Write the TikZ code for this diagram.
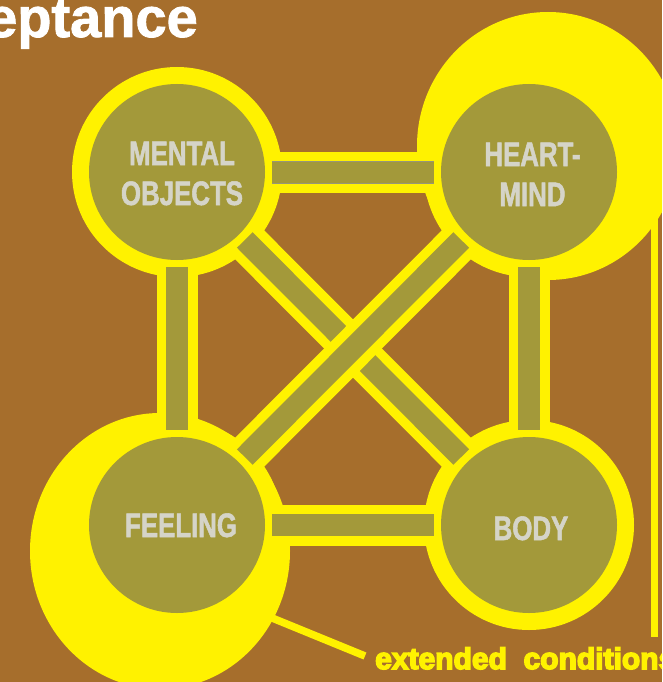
\documentclass[tikz,border=0pt]{standalone}
\usepackage{fontspec}
\setmainfont{Liberation Sans}
\newfontfamily\labfont[FakeStretch=0.76,FakeBold=1.5]{Liberation Sans}
\newfontfamily\extfont[FakeBold=5]{Liberation Sans}
\newfontfamily\titlefont[FakeBold=1.5]{Liberation Sans}
\usetikzlibrary{shapes.geometric}
\definecolor{bgbrown}{RGB}{166,110,44}
\definecolor{yel}{RGB}{255,242,0}
\definecolor{oliv}{RGB}{163,153,58}
\definecolor{labgray}{RGB}{213,212,200}
\definecolor{edgegray}{RGB}{150,150,120}
\tikzset{
  glow/.style={ellipse, fill=yel, inner sep=0pt},
  ringdisc/.style={circle, fill=yel, inner sep=0pt, minimum size=210pt},
  coredisc/.style={circle, fill=oliv, inner sep=0pt, minimum size=176pt},
  ybar/.style={draw=yel, line width=41pt, line cap=butt, shorten <=80pt, shorten >=80pt},
  obar/.style={draw=oliv, line width=22pt, line cap=butt, shorten <=95pt, shorten >=95pt},
  dybar/.style={draw=yel, line width=41pt, line cap=butt, shorten <=80pt, shorten >=80pt},
  dobar/.style={draw=oliv, line width=22pt, line cap=butt, shorten <=96pt, shorten >=96pt},
  lab/.style={text=labgray, align=center, inner sep=0pt,
    font=\labfont\bfseries\fontsize{34}{40}\selectfont},
  pointer/.style={draw=yel, line width=7.5pt, line cap=butt}
}
\begin{document}
\begin{tikzpicture}[x=1pt,y=-1pt]
\useasboundingbox (0,0) rectangle (662,682);
\clip (0,0) rectangle (662,682);
\fill[bgbrown] (0,0) rectangle (662,682);

% title
\node[anchor=base east, text=white, inner sep=0pt,
      font=\titlefont\bfseries\fontsize{56}{60}\selectfont] (title) at (198,37) {Acceptance};

% centres
\coordinate (mo) at (177,172);
\coordinate (hm) at (529,172);
\coordinate (fe) at (177,525);
\coordinate (bo) at (529,525);

% right vertical line
\coordinate (rtop) at (654.5,200);
\coordinate (rbot) at (654.5,637);
\draw[draw=yel, line width=7pt] (rtop) -- (rbot);

% big glows
\node[glow, minimum width=262pt, minimum height=268pt] (glowhm) at (548,146) {};
\node[glow, minimum width=260pt, minimum height=276pt] (glowfe) at (160,551) {};

% pointer to text
\node[anchor=base west, text=yel, inner sep=0pt,
      font=\extfont\bfseries\fontsize{30}{36}\selectfont] (ext) at (375,669) {extended\ \ conditions};
\coordinate (pstart) at (255,611);
\coordinate (pend) at (365,656);
\draw[pointer] (pstart) -- (pend);

% yellow rings
\node[ringdisc] (moR) at (mo) {};
\node[ringdisc] (hmR) at (hm) {};
\node[ringdisc] (feR) at (fe) {};
\node[ringdisc] (boR) at (bo) {};

% straight bars
\draw[ybar] (mo) -- (hm);
\draw[ybar] (fe) -- (bo);
\draw[ybar] (mo) -- (fe);
\draw[ybar] (hm) -- (bo);
\draw[draw=edgegray, line width=1pt, double=oliv, double distance=21pt, shorten <=95pt, shorten >=95pt] (mo) -- (hm);
\draw[obar] (fe) -- (bo);
\draw[obar] (mo) -- (fe);
\draw[obar] (hm) -- (bo);

% diagonals (NE-SW on top)
\draw[dybar] (mo) -- (bo);
\draw[dobar] (mo) -- (bo);
\draw[dybar] (fe) -- (hm);
\draw[dobar] (fe) -- (hm);

% olive cores
\node[coredisc] (moC) at (mo) {};
\node[coredisc] (hmC) at (hm) {};
\node[coredisc] (feC) at (fe) {};
\node[coredisc] (boC) at (bo) {};

% labels (base = baseline of last line)
\node[lab, anchor=base] (moL) at (182,205) {MENTAL\\OBJECTS};
\node[lab, anchor=base] (hmL) at (532.5,206) {HEART-\\MIND};
\node[lab, anchor=base] (feL) at (181,537) {FEELING};
\node[lab, anchor=base] (boL) at (531,540) {BODY};
\end{tikzpicture}
\end{document}
